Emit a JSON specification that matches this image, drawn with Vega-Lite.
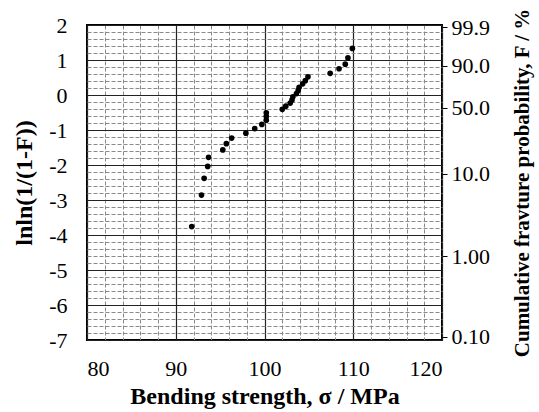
{
  "$schema": "https://vega.github.io/schema/vega-lite/v6.json",
  "width": 355,
  "height": 315,
  "autosize": {"type": "none"},
  "padding": {"left": 87, "top": 25, "right": 97, "bottom": 72},
  "background": "white",
  "config": {
    "view": {"stroke": "black", "strokeWidth": 2},
    "axis": {"labelFont": "Liberation Serif", "titleFont": "Liberation Serif", "labelColor": "black", "titleColor": "black", "labelFontSize": 22, "titleFontSize": 24, "titleFontWeight": "bold"}
  },
  "data": {"values": [
    {"sigma": 91.8, "lnln": -3.76},
    {"sigma": 92.9, "lnln": -2.86},
    {"sigma": 93.2, "lnln": -2.38},
    {"sigma": 93.6, "lnln": -2.04},
    {"sigma": 93.7, "lnln": -1.78},
    {"sigma": 95.3, "lnln": -1.57},
    {"sigma": 95.7, "lnln": -1.39},
    {"sigma": 96.3, "lnln": -1.23},
    {"sigma": 97.9, "lnln": -1.09},
    {"sigma": 98.9, "lnln": -0.96},
    {"sigma": 99.7, "lnln": -0.84},
    {"sigma": 100.2, "lnln": -0.72},
    {"sigma": 100.2, "lnln": -0.61},
    {"sigma": 100.2, "lnln": -0.51},
    {"sigma": 102.0, "lnln": -0.41},
    {"sigma": 102.4, "lnln": -0.32},
    {"sigma": 102.9, "lnln": -0.23},
    {"sigma": 103.1, "lnln": -0.14},
    {"sigma": 103.2, "lnln": -0.05},
    {"sigma": 103.6, "lnln": 0.04},
    {"sigma": 103.8, "lnln": 0.13},
    {"sigma": 103.9, "lnln": 0.22},
    {"sigma": 104.3, "lnln": 0.32},
    {"sigma": 104.6, "lnln": 0.41},
    {"sigma": 104.9, "lnln": 0.52},
    {"sigma": 107.4, "lnln": 0.62},
    {"sigma": 108.4, "lnln": 0.75},
    {"sigma": 109.1, "lnln": 0.88},
    {"sigma": 109.4, "lnln": 1.06},
    {"sigma": 109.9, "lnln": 1.33}
  ]},
  "resolve": {"axis": {"x": "independent", "y": "independent"}},
  "layer": [
    {
      "mark": {"type": "point", "opacity": 0},
      "encoding": {
        "x": {"field": "sigma", "type": "quantitative", "scale": {"domain": [80, 120], "nice": false, "zero": false},
          "axis": {"orient": "bottom", "values": [82,84,86,88,92,94,96,98,102,104,106,108,112,114,116,118], "labels": false, "ticks": false, "domain": false, "title": null, "grid": true, "gridColor": "#8a8a8a", "gridDash": [4, 2], "gridWidth": 1}},
        "y": {"field": "lnln", "type": "quantitative", "scale": {"domain": [-7, 2], "nice": false, "zero": false},
          "axis": {"orient": "left", "values": [-6.8,-6.6,-6.4,-6.2,-5.8,-5.6,-5.4,-5.2,-4.8,-4.6,-4.4,-4.2,-3.8,-3.6,-3.4,-3.2,-2.8,-2.6,-2.4,-2.2,-1.8,-1.6,-1.4,-1.2,-0.8,-0.6,-0.4,-0.2,0.2,0.4,0.6,0.8,1.2,1.4,1.6,1.8], "labels": false, "ticks": false, "domain": false, "title": null, "grid": true, "gridColor": "#8a8a8a", "gridDash": [4, 2], "gridWidth": 1}}
      }
    },
    {
      "mark": {"type": "circle", "color": "black", "opacity": 1, "size": 32},
      "encoding": {
        "x": {"field": "sigma", "type": "quantitative",
          "axis": {"orient": "bottom", "values": [80, 90, 100, 110, 120], "ticks": false, "domain": false, "grid": true, "gridColor": "#222", "gridWidth": 1.2, "labelPadding": 18, "title": "Bending strength, σ / MPa", "titlePadding": 5}},
        "y": {"field": "lnln", "type": "quantitative",
          "axis": {"orient": "left", "values": [-7,-6,-5,-4,-3,-2,-1,0,1,2], "labelExpr": "'' + datum.value", "ticks": false, "domain": false, "grid": true, "gridColor": "#222", "gridWidth": 1.2, "labelPadding": 20, "title": "lnln(1/(1-F))", "titlePadding": 12}}
      }
    },
    {
      "mark": {"type": "point", "opacity": 0},
      "encoding": {
        "y": {"field": "lnln", "type": "quantitative",
          "axis": {"orient": "right", "values": [1.933, 0.834, -0.3665, -2.250, -4.600, -6.907],
            "labelExpr": "datum.value > 1.5 ? '99.9' : datum.value > 0.5 ? '90.0' : datum.value > -1 ? '50.0' : datum.value > -3 ? '10.0' : datum.value > -5 ? '1.00' : '0.10'",
            "ticks": true, "tickSize": 5, "tickColor": "black", "tickWidth": 1, "domain": false, "grid": false, "labelPadding": 4,
            "title": "Cumulative fravture probability, F / %", "titleAngle": 270, "titleFontSize": 21, "titlePadding": 43}}
      }
    }
  ]
}
